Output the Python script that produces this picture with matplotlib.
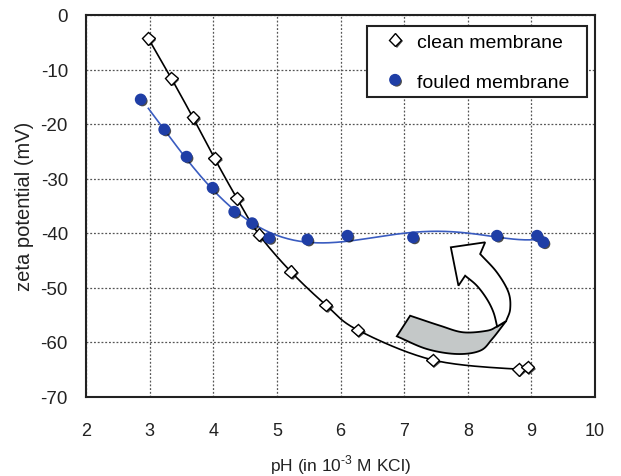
import numpy as np
import matplotlib
matplotlib.use('Agg')
import matplotlib.pyplot as plt
import matplotlib.patheffects as pe
from matplotlib.patches import Polygon, Rectangle

plt.rcParams['font.family'] = ['Liberation Sans', 'DejaVu Sans']
plt.rcParams['mathtext.fontset'] = 'custom'
plt.rcParams['mathtext.rm'] = 'Liberation Sans'
plt.rcParams['axes.unicode_minus'] = False

# clean membrane (diamonds)
ph_clean = [2.98, 3.34, 3.68, 4.02, 4.37, 4.72, 5.22, 5.77, 6.27, 7.45, 8.80, 8.94]
zeta_clean = [-4.3, -11.6, -18.8, -26.3, -33.6, -40.3, -47.1, -53.2, -57.8, -63.3, -65.0, -64.6]

# fouled membrane (dots)
ph_fouled = [2.86, 3.23, 3.58, 3.99, 4.33, 4.61, 4.88, 5.48, 6.11, 7.14, 8.46, 9.09, 9.19]
zeta_fouled = [-15.5, -21.0, -26.0, -31.7, -36.1, -38.2, -40.9, -41.2, -40.5, -40.8, -40.5, -40.5, -41.7]

xticks = [2, 3, 4, 5, 6, 7, 8, 9, 10]
yticks = [0, -10, -20, -30, -40, -50, -60, -70]

BLUE = '#1f3ea6'
TXT = '#222222'
W, H = 621, 477


def catmull_rom(xs, ys, n=20):
    pts = np.column_stack([xs, ys]).astype(float)
    pts = np.vstack([2 * pts[0] - pts[1], pts, 2 * pts[-1] - pts[-2]])
    out = []
    for i in range(1, len(pts) - 2):
        p0, p1, p2, p3 = pts[i - 1], pts[i], pts[i + 1], pts[i + 2]
        for t in np.linspace(0, 1, n, endpoint=False):
            out.append(0.5 * ((2 * p1) + (-p0 + p2) * t
                              + (2 * p0 - 5 * p1 + 4 * p2 - p3) * t ** 2
                              + (-p0 + 3 * p1 - 3 * p2 + p3) * t ** 3))
    out.append(pts[-2])
    out = np.array(out)
    return out[:, 0], out[:, 1]


def px(pts):
    # pixel positions in the figure -> data coordinates (annotation shape only)
    a = np.array(pts, dtype=float)
    return np.column_stack([2 + (a[:, 0] - 86) / 63.6, -(a[:, 1] - 16) / 5.45])


def edge(pts):
    a = px(pts)
    x, y = catmull_rom(a[:, 0], a[:, 1], n=10)
    return np.column_stack([x, y])


fig = plt.figure(figsize=(W / 100, H / 100), dpi=100)
ax = fig.add_axes([86 / W, 1 - 397.5 / H, 509 / W, 381.5 / H])

# curves
cx, cy = catmull_rom(ph_clean, zeta_clean)
ax.plot(cx, cy, color='black', lw=1.2, zorder=3)

coef = np.polyfit(ph_fouled, zeta_fouled, 5)
fx = np.linspace(2.98, 9.05, 200)
ax.plot(fx, np.polyval(coef, fx), color='#3a5cc0', lw=1.2, zorder=3)

shadow = [pe.SimplePatchShadow(offset=(1.2, -1.2), shadow_rgbFace='black', alpha=0.7), pe.Normal()]
ax.plot(ph_clean, zeta_clean, ls='none', marker='D', ms=6.5, mfc='white', mec='black',
        mew=1.0, zorder=5, label='clean membrane', path_effects=shadow)
ax.plot(ph_fouled, zeta_fouled, ls='none', marker='o', ms=7.5, mfc=BLUE, mec=BLUE,
        zorder=5, label='fouled membrane', path_effects=shadow)

# curved block arrow (annotation)
gray_top = edge([(410, 316.7), (440, 326.7), (463, 333.3), (487, 331.7), (497, 327.5)])
gray_bot = edge([(506, 322), (492, 340), (480, 351.7), (456.7, 355), (426.7, 350), (396.7, 337.3)])
ax.add_patch(Polygon(np.vstack([gray_top, gray_bot]), closed=True, facecolor='#c4c8c8',
                     edgecolor='black', lw=1.3, zorder=4))
white_left = edge([(497, 327.5), (493.3, 313.3), (486.7, 300), (476.7, 286.7), (465, 276.7)])
white_head = px([(458.3, 286.7), (450.7, 248.3), (485, 243.3)])
white_right = edge([(480, 255), (496.7, 273.3), (508.3, 293.3), (510, 310), (506, 322)])
ax.add_patch(Polygon(np.vstack([white_left, white_head, white_right]), closed=True,
                     facecolor='white', edgecolor='black', lw=1.3, joinstyle='miter', zorder=4))

ax.set_xlim(2, 10)
ax.set_ylim(-70, 0)
ax.set_xticks(xticks)
ax.set_yticks(yticks)
ax.tick_params(length=0, colors=TXT)
ax.tick_params(axis='x', pad=18, labelsize=13)
ax.tick_params(axis='y', pad=13, labelsize=13.5)
ax.grid(True, color='#555555', ls=(0, (1.5, 1.5)), lw=0.9)
ax.set_axisbelow(True)
for s in ax.spines.values():
    s.set_linewidth(1.5)
    s.set_color(TXT)

ax.set_xlabel(r'pH (in 10$^{\text{-3}}$ M KCl)', fontsize=12.5, color=TXT, labelpad=10)
ax.set_ylabel('zeta potential (mV)', fontsize=14.5, color=TXT, labelpad=5)

# legend with its own frame
leg = ax.legend(loc='upper left', bbox_to_anchor=(379.5 / W, 1 - 34 / H),
                bbox_transform=fig.transFigure, fontsize=14, frameon=False,
                handletextpad=0.33, borderpad=0, labelspacing=1.15, handlelength=1.6,
                borderaxespad=0)
leg.set_zorder(7)
frame = Rectangle((367 / W, 1 - 98 / H), 220 / W, 71 / H, transform=fig.transFigure,
                  facecolor='white', edgecolor=TXT, lw=1.5, zorder=6)
ax.add_artist(frame)
frame.set_clip_on(False)

fig.savefig('out.png', dpi=100)
